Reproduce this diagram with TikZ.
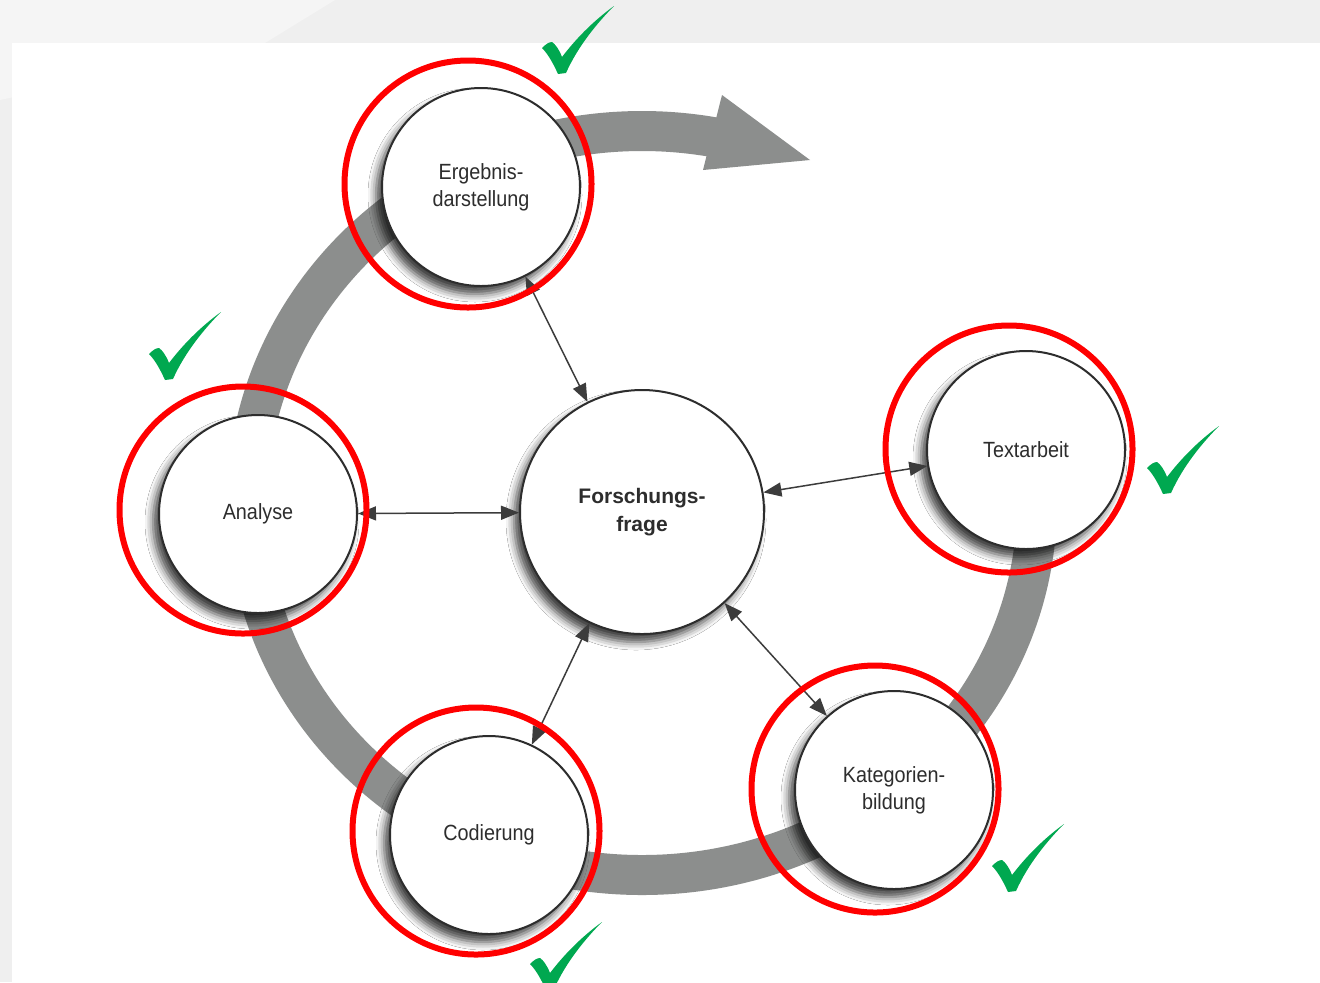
\documentclass[tikz,border=0pt]{standalone}
\usepackage{fontspec}
\setmainfont{Liberation Sans}
\newfontfamily\narrowsf{Liberation Sans}[FakeStretch=0.9]
\usetikzlibrary{arrows.meta,shadows.blur}

\definecolor{bandgray}{RGB}{140,142,141}
\definecolor{tickgreen}{RGB}{0,168,80}
\definecolor{outergray}{RGB}{239,239,239}
\definecolor{outerlight}{RGB}{245,245,245}
\definecolor{inkgray}{RGB}{45,45,45}
\definecolor{linkgray}{RGB}{60,60,60}

\tikzset{
  checkmark/.pic={
    \fill[tickgreen] (0,0) .. controls (-5,11) and (-10,20) .. (-16,26)
      .. controls (-12,30) and (-9,32) .. (-6,32)
      .. controls (-3,30) and (1,25) .. (4,17)
      .. controls (20,38) and (38,55) .. (56,68)
      .. controls (40,52) and (20,28) .. (8,1) -- cycle;
  }
}

\begin{document}
\begin{tikzpicture}[x=0.5pt,y=0.5pt,
    stage node/.style={circle,draw=inkgray,line width=1pt,fill=white,minimum size=99pt,inner sep=0pt,
      align=center,text=inkgray,font=\narrowsf\fontsize{11}{13.5}\selectfont,
      blur shadow={shadow xshift=-3pt,shadow yshift=-4pt,shadow blur radius=4pt,shadow opacity=75}},
    center node/.style={stage node,minimum size=122pt,font=\bfseries\fontsize{10.5}{14}\selectfont},
    redring/.style={circle,draw=red,line width=3pt,minimum size=123.5pt,inner sep=0pt},
    link/.style={<->,>={Triangle[length=9pt,width=7pt]},draw=linkgray,fill=linkgray,line width=0.75pt}]

  \useasboundingbox (0,0) rectangle (1320,-982);
  \fill[outergray] (0,0) rectangle (1320,-982);
  \fill[outerlight] (0,0) -- (335,0) -- (265,-43) -- (0,-100) -- cycle;
  \fill[white] (12,-43) rectangle (1320,-982);

  % cycle band
  \draw[bandgray,line width=20pt] (642,-503) ++(0:395 and 372)
    arc[start angle=0,end angle=-283,x radius=395,y radius=372];
  \fill[bandgray] (722,-95) -- (810,-160) -- (703,-170) -- cycle;

  \node[center node] (frage) at (642,-512) {Forschungs-\\frage};
  \node[stage node] (ergebnis) at (481,-187) {Ergebnis-\\darstellung};
  \node[stage node] (textarbeit) at (1026,-450) {Textarbeit};
  \node[stage node] (kategorien) at (894,-790) {Kategorien-\\bildung};
  \node[stage node] (codierung) at (489,-835) {Codierung};
  \node[stage node] (analyse) at (258,-514) {Analyse};

  \path[link]
    (frage) edge (ergebnis)
    (frage) edge (textarbeit)
    (frage) edge (kategorien)
    (frage) edge (codierung)
    (frage) edge (analyse)
    ;

  \node[redring] (ring1) at (468,-184) {};
  \node[redring] (ring2) at (1009,-449) {};
  \node[redring] (ring3) at (875,-789) {};
  \node[redring] (ring4) at (476,-831) {};
  \node[redring] (ring5) at (243,-510) {};

  \pic at (558,-74) {checkmark};
  \pic at (1163,-494) {checkmark};
  \pic at (1008,-892) {checkmark};
  \pic at (546,-990) {checkmark};
  \pic at (165,-380) {checkmark};
\end{tikzpicture}
\end{document}
